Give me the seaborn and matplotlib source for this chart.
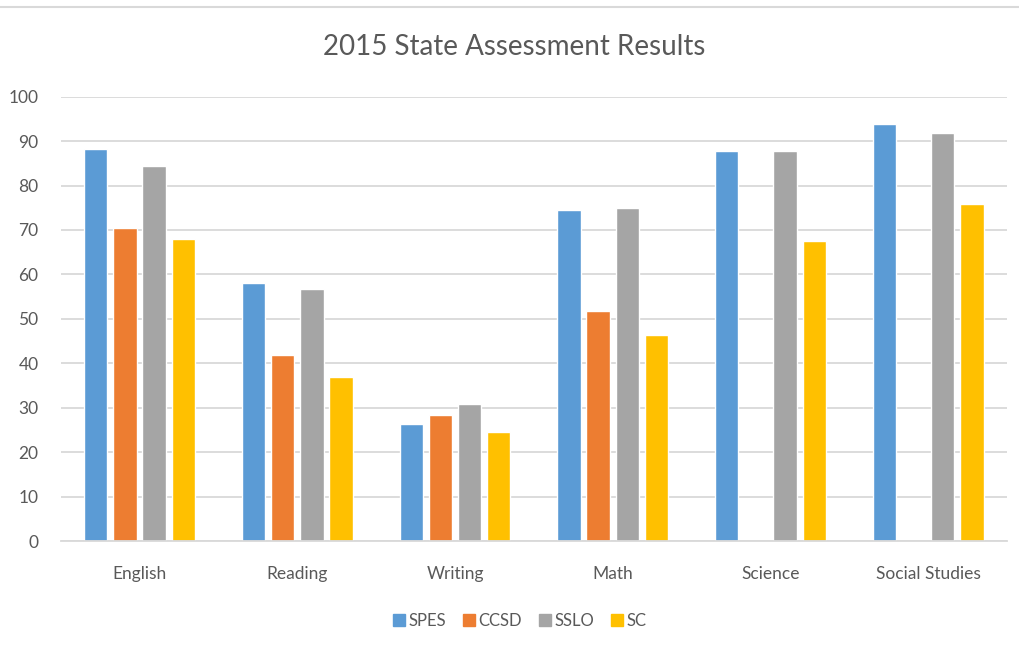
import matplotlib
matplotlib.use("Agg")
import matplotlib.pyplot as plt
import matplotlib.lines as mlines
import seaborn as sns
import pandas as pd
import numpy as np

categories = ["English", "Reading", "Writing", "Math", "Science", "Social Studies"]
series = ["SPES", "CCSD", "SSLO", "SC"]
spes = [88.2, 58.1, 26.3, 74.5, 87.7, 93.9]
ccsd = [70.4, 41.9, 28.4, 51.8, np.nan, np.nan]
sslo = [84.4, 56.8, 30.8, 74.9, 87.7, 91.9]
sc = [67.9, 36.9, 24.5, 46.4, 67.5, 75.8]
colors = ["#5B9BD5", "#ED7D31", "#A5A5A5", "#FFC000"]
yticks = [0, 10, 20, 30, 40, 50, 60, 70, 80, 90, 100]

rows = []
for name, vals in zip(series, [spes, ccsd, sslo, sc]):
    for c, v in zip(categories, vals):
        rows.append({"Subject": c, "Group": name, "Score": v})
df = pd.DataFrame(rows)

sns.set_theme(style="white")
plt.rcParams['font.family'] = ['Lato', 'DejaVu Sans']
txt = "#595959"

fig = plt.figure(figsize=(10.19, 6.49), dpi=100)
ax = fig.add_axes([60.7/1019, 108/649, (1007-60.7)/1019, (541-96.7)/649])

sns.barplot(data=df, x="Subject", y="Score", hue="Group", order=categories,
            hue_order=series, palette=colors, width=0.74, gap=0.2,
            errorbar=None, ax=ax, legend=False, saturation=1)

ax.set_ylim(0, 100)
ax.set_xlim(-0.5, 5.5)
ax.set_yticks(yticks)
ax.yaxis.grid(True, color="#D9D9D9", linewidth=1.3)
ax.set_axisbelow(True)
for s in ["top", "right", "left"]:
    ax.spines[s].set_visible(False)
ax.spines["bottom"].set_color("#D9D9D9")
ax.spines["bottom"].set_linewidth(1.3)
ax.set_xlabel("")
ax.set_ylabel("")
ax.tick_params(axis="both", length=0, labelsize=12.5, colors=txt)
ax.tick_params(axis="y", pad=16)
ax.tick_params(axis="x", pad=18)
for lab in ax.get_yticklabels():
    lab.set_horizontalalignment("right")

fig.text(514/1019, 1 - 47/649, "2015 State Assessment Results", ha="center", va="center",
         fontsize=20, color=txt)

handles = [mlines.Line2D([], [], marker="s", linestyle="none", markersize=8.5,
                         markerfacecolor=c, markeredgecolor=c, label=s)
           for s, c in zip(series, colors)]
leg = fig.legend(handles=handles, loc="center", bbox_to_anchor=(519/1019, 1 - 621/649),
                 ncol=4, frameon=False, fontsize=12, handletextpad=0.15,
                 columnspacing=0.9, handlelength=0.9)
for t in leg.get_texts():
    t.set_color(txt)

fig.add_artist(mlines.Line2D([0, 1], [1 - 6.5/649, 1 - 6.5/649], transform=fig.transFigure,
                             color="#D9D9D9", linewidth=1.5))

fig.savefig("out.png", dpi=100, facecolor="white")
